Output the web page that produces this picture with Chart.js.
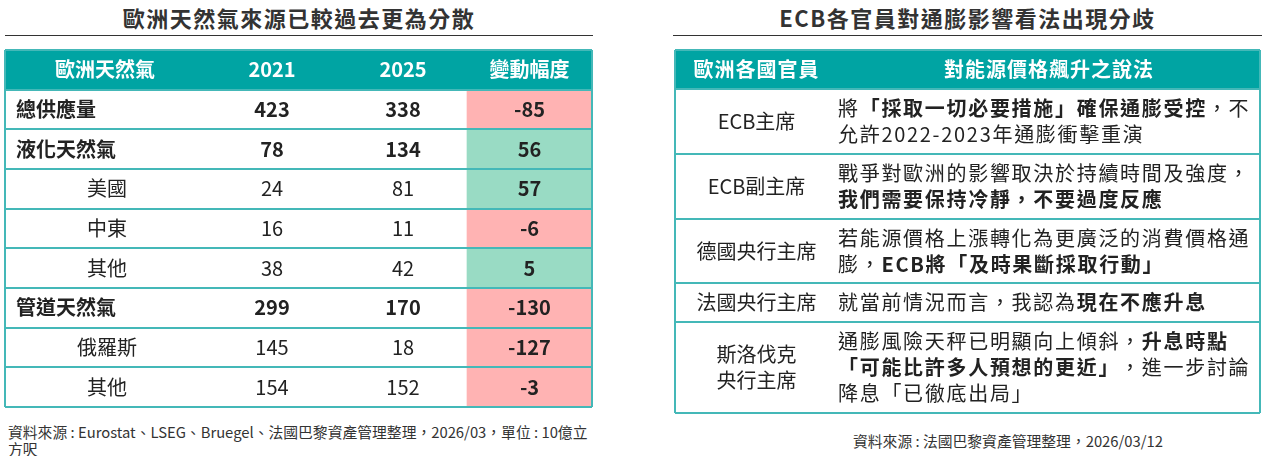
<!DOCTYPE html>
<html lang="zh-Hant">
<head>
<meta charset="utf-8">
<script src="https://cdn.jsdelivr.net/npm/chart.js@4.4.1/dist/chart.umd.min.js"></script>
<style>
    html, body { margin: 0; padding: 0; background: #fff; }
    body { width: 1262px; height: 456px; position: relative; overflow: hidden;
           font-family: "Noto Sans CJK TC", "Noto Sans", sans-serif; color: #333; }
    .title { position: absolute; top: 0; height: 35px; line-height: 34px; text-align: center;
             font-size: 22px; font-weight: bold; letter-spacing: 1.5px; color: #333;
             border-bottom: 1.5px solid #333; }
    .box { position: absolute; top: 48px; }
    .note { position: absolute; font-size: 14.8px; line-height: 17px; color: #333; white-space: nowrap; }
</style>
</head>
<body>
<div class="title" style="left:5px; width:588px;">歐洲天然氣來源已較過去更為分散</div>
<div class="title" style="left:673px; width:589px;">ECB各官員對通膨影響看法出現分歧</div>

<div class="box" style="left:3px; width:591px; height:361px;"><canvas id="gas-table"></canvas></div>
<div class="box" style="left:673px; width:589px; height:367px;"><canvas id="views-table"></canvas></div>

<div class="note" style="left:8px; top:423px;">資料來源 : Eurostat、LSEG、Bruegel、法國巴黎資產管理整理，2026/03，單位 : 10億立<br>方呎</div>
<div class="note" style="left:853px; top:432px;">資料來源 : 法國巴黎資產管理整理，2026/03/12</div>

<script>
//left table values
const GAS_HEADERS = ['歐洲天然氣', '2021', '2025', '變動幅度'];
const GAS_SOURCES = ['總供應量', '液化天然氣', '美國', '中東', '其他', '管道天然氣', '俄羅斯', '其他'];
const GAS_IS_TOTAL = [true, true, false, false, false, true, false, false];
const SUPPLY_2021 = [423, 78, 24, 16, 38, 299, 145, 154];
const SUPPLY_2025 = [338, 134, 81, 11, 42, 170, 18, 152];
const SUPPLY_CHANGE = [-85, 56, 57, -6, 5, -130, -127, -3];

//right table values (** marks bold text)
const VIEW_HEADERS = ['歐洲各國官員', '對能源價格飆升之說法'];
const OFFICIALS = [['ECB主席'], ['ECB副主席'], ['德國央行主席'], ['法國央行主席'], ['斯洛伐克', '央行主席']];
const VIEWS = [
    ['將**「採取一切必要措施」確保通膨受控**，不', '允許2022-2023年通膨衝擊重演'],
    ['戰爭對歐洲的影響取決於持續時間及強度，', '**我們需要保持冷靜，不要過度反應**'],
    ['若能源價格上漲轉化為更廣泛的消費價格通', '膨，**ECB將「及時果斷採取行動」**'],
    ['就當前情況而言，我認為**現在不應升息**'],
    ['通膨風險天秤已明顯向上傾斜，**升息時點**', '**「可能比許多人預想的更近」**，進一步討論', '降息「已徹底出局」'],
];

//styling
const FONT = '"Noto Sans CJK TC", "Noto Sans", sans-serif';
const TEAL = '#00a4a3';
const LINE_TEAL = '#44b8b8';
const PINK = '#ffb3b3';
const GREEN = '#99dbc4';
const TEXT = '#222';
const GAS_COLS = [0, 200, 334, 462, 587];
const VIEW_COLS = [0, 163, 585];

const colCenter = (cols, i) => (cols[i] + cols[i + 1]) / 2;

function makeTextPlugin(items) {
    return {
        id: 'cellText',
        afterDraw(chart) {
            const {ctx, scales: {x, y}} = chart;
            ctx.save();
            ctx.textBaseline = 'middle';
            items.forEach(item => {
                ctx.fillStyle = item.color || TEXT;
                ctx.letterSpacing = item.spacing || '0px';
                const segs = String(item.text).split('**')
                    .map((t, i) => ({t: t, bold: item.bold || i % 2 === 1}))
                    .filter(s => s.t);
                let total = 0;
                segs.forEach(s => {
                    ctx.font = (s.bold ? 'bold ' : '') + item.size + 'px ' + FONT;
                    s.w = ctx.measureText(s.t).width;
                    total += s.w;
                });
                let px = x.getPixelForValue(item.x);
                if (item.align === 'center') px -= total / 2;
                const py = y.getPixelForValue(item.y);
                segs.forEach(s => {
                    ctx.font = (s.bold ? 'bold ' : '') + item.size + 'px ' + FONT;
                    ctx.fillText(s.t, px, py);
                    px += s.w;
                });
            });
            ctx.restore();
        }
    };
}

function initTableConfig(datasets, xMax, rowEdges, items) {
    const lines = {color: LINE_TEAL, lineWidth: 2, drawTicks: false, offset: false, z: 1};
    return {
        type: 'bar',
        data: {datasets: datasets},
        options: {
            indexAxis: 'y',
            responsive: true,
            maintainAspectRatio: false,
            animation: false,
            layout: {padding: 2},
            datasets: {bar: {grouped: false, barPercentage: 1, categoryPercentage: 1, borderWidth: 0}},
            plugins: {legend: {display: false}, tooltip: {enabled: false}},
            scales: {
                x: {
                    type: 'linear', min: 0, max: xMax, offset: false,
                    ticks: {display: false}, grid: lines, border: {display: false},
                    afterBuildTicks: s => { s.ticks = [{value: 0}, {value: xMax}]; }
                },
                y: {
                    type: 'linear', reverse: true, min: 0, max: rowEdges[rowEdges.length - 1], offset: false,
                    ticks: {display: false}, grid: lines, border: {display: false},
                    afterBuildTicks: s => { s.ticks = rowEdges.map(v => ({value: v})); }
                }
            }
        },
        plugins: [makeTextPlugin(items)]
    };
}

function createGasTable() {
    const rowEdges = Array.from(Array(GAS_SOURCES.length + 2).keys());
    const xMax = GAS_COLS[GAS_COLS.length - 1];
    const items = GAS_HEADERS.map((h, i) => ({
        x: colCenter(GAS_COLS, i), y: 0.5, text: h, align: 'center', bold: true, color: '#fff', size: 20
    }));
    GAS_SOURCES.forEach((name, r) => {
        const yc = r + 1.5;
        const total = GAS_IS_TOTAL[r];
        items.push(total
            ? {x: 11, y: yc, text: name, align: 'left', bold: true, size: 20}
            : {x: colCenter(GAS_COLS, 0) + 2, y: yc, text: name, align: 'center', size: 20});
        items.push({x: colCenter(GAS_COLS, 1), y: yc, text: SUPPLY_2021[r], align: 'center', bold: total, size: 20});
        items.push({x: colCenter(GAS_COLS, 2), y: yc, text: SUPPLY_2025[r], align: 'center', bold: total, size: 20});
        items.push({x: colCenter(GAS_COLS, 3), y: yc, text: SUPPLY_CHANGE[r], align: 'center', bold: true, size: 20});
    });

    const datasets = [
        {
            label: 'header',
            data: [{x: [0, xMax], y: 0.5}],
            backgroundColor: TEAL
        },
        {
            label: '變動幅度',
            data: SUPPLY_CHANGE.map((v, r) => ({x: [GAS_COLS[3], GAS_COLS[4]], y: r + 1.5})),
            backgroundColor: SUPPLY_CHANGE.map(v => v < 0 ? PINK : GREEN)
        }
    ];
    return new Chart(document.getElementById('gas-table'), initTableConfig(datasets, xMax, rowEdges, items));
}

function createViewsTable() {
    const xMax = VIEW_COLS[VIEW_COLS.length - 1];
    const heights = [1.5].concat(VIEWS.map(v => v.length + 0.5));
    const rowEdges = [0];
    heights.forEach(h => rowEdges.push(rowEdges[rowEdges.length - 1] + h));

    const items = VIEW_HEADERS.map((h, i) => ({
        x: colCenter(VIEW_COLS, i), y: 0.75, text: h, align: 'center', bold: true, color: '#fff', size: 20, spacing: '1px'
    }));
    VIEWS.forEach((lines, r) => {
        const yc = (rowEdges[r + 1] + rowEdges[r + 2]) / 2;
        OFFICIALS[r].forEach((t, k) => items.push({
            x: colCenter(VIEW_COLS, 0), y: yc + k - (OFFICIALS[r].length - 1) / 2,
            text: t, align: 'center', size: 20
        }));
        lines.forEach((t, k) => items.push({
            x: VIEW_COLS[1], y: yc + k - (lines.length - 1) / 2,
            text: t, align: 'left', size: 20, spacing: '1.7px'
        }));
    });

    const datasets = [
        {
            label: 'header',
            data: [{x: [0, xMax], y: 0.75}],
            backgroundColor: TEAL
        }
    ];
    return new Chart(document.getElementById('views-table'), initTableConfig(datasets, xMax, rowEdges, items));
}

createGasTable();
createViewsTable();
</script>
</body>
</html>
